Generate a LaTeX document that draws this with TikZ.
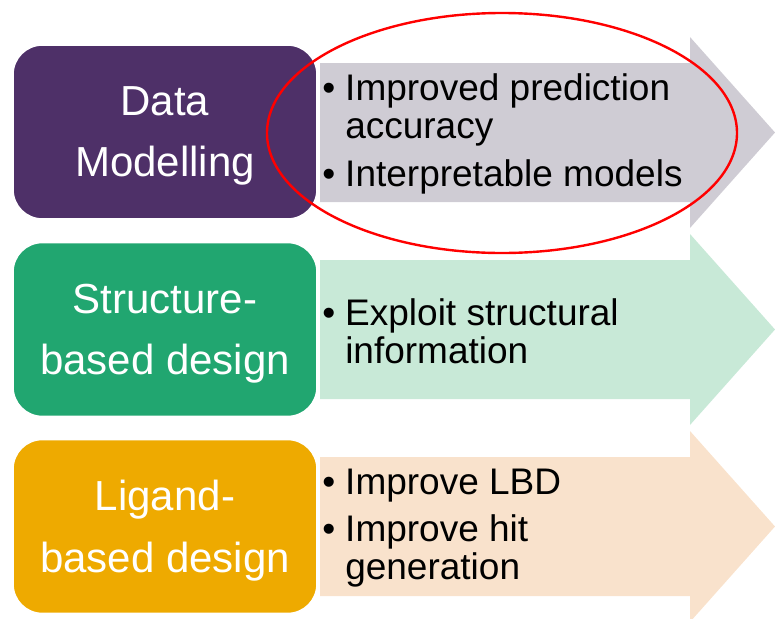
\documentclass[tikz,border=0pt]{standalone}
\usepackage{fontspec}
\setmainfont{Liberation Sans}
\usetikzlibrary{shapes.geometric}

\definecolor{dmpurple}{RGB}{78,48,104}
\definecolor{sbgreen}{RGB}{33,166,112}
\definecolor{lbgold}{RGB}{238,170,0}
\definecolor{dmgrey}{RGB}{207,204,212}
\definecolor{sbmint}{RGB}{200,233,215}
\definecolor{lbpeach}{RGB}{249,226,204}

\newcommand{\bul}{\makebox[17.25pt][l]{\textbullet}}
\newcommand{\ind}{\hspace*{17.25pt}}

\begin{document}
\begin{tikzpicture}[x=0.75pt,y=-0.75pt,
  stage/.style={rounded corners=22pt, draw=white, line width=1.2pt, minimum width=228pt, minimum height=130.5pt, text=white, align=center, font=\fontsize{31.5}{46}\selectfont},
  goals/.style={anchor=west, inner sep=0pt, align=left, font=\fontsize{27.75}{28.5}\selectfont}]
\useasboundingbox (0,0) rectangle (775,618);

% big arrows
\fill[dmgrey] (320,63) -- (690,63) -- (690,37) -- (775,132.5) -- (690,228) -- (690,202) -- (320,202) -- cycle;
\fill[sbmint] (320,260) -- (690,260) -- (690,234) -- (775,329.5) -- (690,425) -- (690,399) -- (320,399) -- cycle;
\fill[lbpeach] (320,457) -- (690,457) -- (690,431) -- (775,526.5) -- (690,622) -- (690,596) -- (320,596) -- cycle;

% boxes
\node[stage, fill=dmpurple] (dm) at (165,132) {};
\node[stage, fill=sbgreen] (sb) at (165,329.5) {};
\node[stage, fill=lbgold] (lb) at (165,526.5) {};
\node[text=white, align=center, font=\fontsize{31.5}{46}\selectfont] (dmtext) at ([yshift=-3pt]dm.center) {Data\\Modelling};
\node[text=white, align=center, font=\fontsize{31.5}{46}\selectfont] (sbtext) at ([yshift=-3pt]sb.center) {Structure-\\based design};
\node[text=white, align=center, font=\fontsize{31.5}{46}\selectfont] (lbtext) at ([yshift=-3pt]lb.center) {Ligand-\\based design};

% bullet text
\node[goals] (dmgoals) at (322,134) {\bul Improved prediction\\\ind accuracy\\[7pt]\bul Interpretable models};
\node[goals] (sbgoals) at (322,331) {\bul Exploit structural\\\ind information};
\node[goals] (lbgoals) at (322,528) {\bul Improve LBD\\[7pt]\bul Improve hit\\\ind generation};

% highlight
\node[draw=red, line width=1.8pt, ellipse, inner sep=0pt, minimum width=352.5pt, minimum height=180pt] (ring) at (502,133) {};
\end{tikzpicture}
\end{document}
